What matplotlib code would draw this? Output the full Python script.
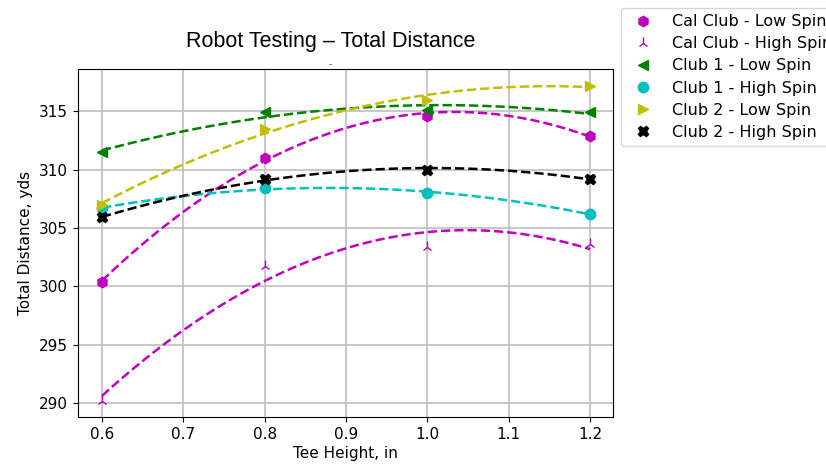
import numpy as np
import matplotlib.pyplot as plt

tee_height = [0.6, 0.8, 1.0, 1.2]

cal_low = [300.4, 311.0, 314.6, 312.9]
cal_high = [290.2, 301.7, 303.4, 303.6]
club1_low = [311.5, 314.9, 315.1, 314.9]
club1_high = [306.7, 308.4, 308.0, 306.2]
club2_low = [307.0, 313.5, 316.0, 317.2]
club2_high = [305.9, 309.2, 310.0, 309.2]

labels = ['Cal Club - Low Spin', 'Cal Club - High Spin', 'Club 1 - Low Spin',
          'Club 1 - High Spin', 'Club 2 - Low Spin', 'Club 2 - High Spin']
series = [cal_low, cal_high, club1_low, club1_high, club2_low, club2_high]
colors = ['m', 'm', 'g', 'c', 'y', 'k']
markers = ['h', '2', '<', 'o', '>', 'X']

plt.rcParams['font.size'] = 11

fig = plt.figure(figsize=(8.26, 4.68), dpi=100)
ax = fig.add_axes([0.094, 0.109, 0.648, 0.743])

xs = np.linspace(0.6, 1.2, 100)
for y, lab, c, m in zip(series, labels, colors, markers):
    ax.plot(tee_height, y, linestyle='none', marker=m, color=c, label=lab,
            markersize=7.5 if m != '2' else 8)
    fit = np.polyfit(tee_height, y, 2)
    ax.plot(xs, np.polyval(fit, xs), '--', color=c, linewidth=1.8)

ax.set_xlim(0.57, 1.228)
ax.set_ylim(288.8, 318.6)
ax.set_yticks([290, 295, 300, 305, 310, 315])
ax.grid(True, color='#bfbfbf', linewidth=1.2)
ax.set_xlabel('Tee Height, in', labelpad=3)
ax.set_ylabel('Total Distance, yds')
ax.set_title('Robot Testing \u2013 Total Distance', fontfamily='Liberation Sans',
             fontsize=15.5, pad=16, x=0.473)
fig.text(0.4, 0.862, '\u2013', fontsize=5, ha='center', va='center')

ax.legend(loc='upper left', bbox_to_anchor=(1.0, 1.2), frameon=True,
          fontsize=11.5, labelspacing=0.45)

fig.savefig('out.png', dpi=100)
